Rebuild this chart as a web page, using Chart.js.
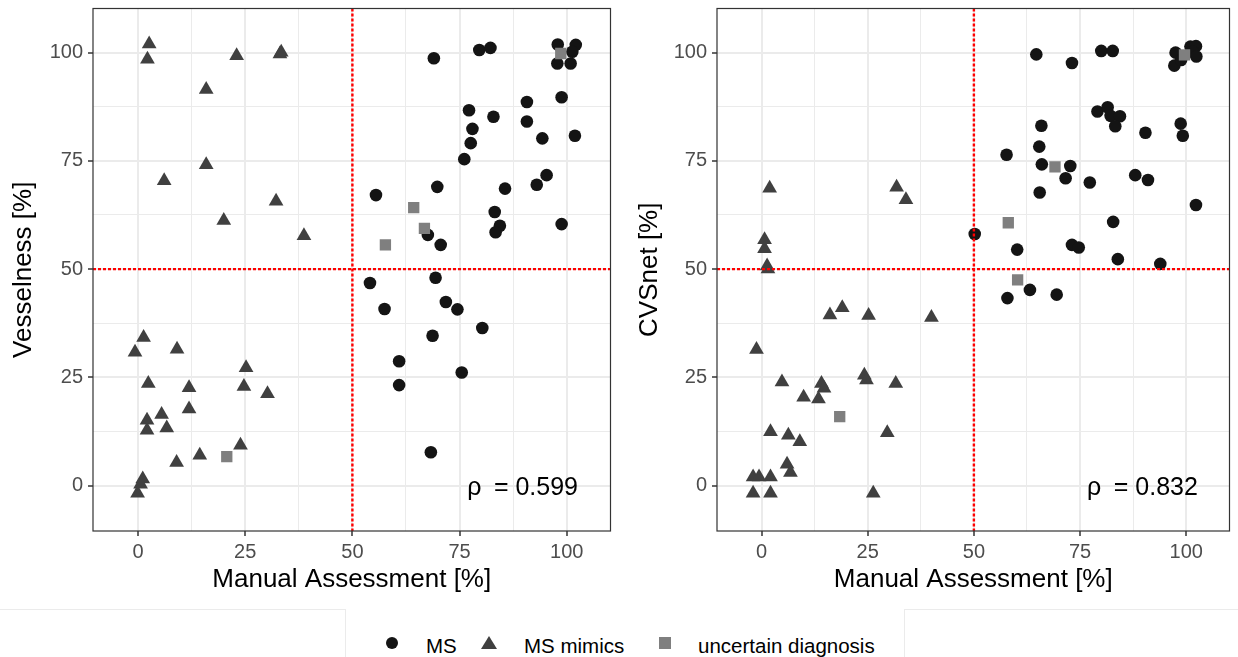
<!DOCTYPE html>
<html lang="en">
<head>
    <meta charset="UTF-8">
    <title>Vesselness / CVSnet vs Manual Assessment</title>
    <script src="https://cdn.jsdelivr.net/npm/chart.js"></script>
    <style>
        body {
            margin: 0;
            background: #fff;
            font-family: "Liberation Sans", Arial, sans-serif;
        }
        #page {
            position: relative;
            width: 1238px;
            height: 657px;
            overflow: hidden;
        }
        canvas { position: absolute; top: 0; }
        #left { left: 0; }
        #right { left: 619px; }
        .frame { position: absolute; border-color: #ebebeb; border-style: solid; border-width: 0; }
        .legend-item { position: absolute; font-size: 20.5px; color: #000; line-height: 20px; top: 636px; }
        .mark { position: absolute; }
    </style>
</head>
<body>
<div id="page">
    <canvas id="left" width="619" height="600"></canvas>
    <canvas id="right" width="619" height="600"></canvas>

    <div class="frame" style="left:0; top:609px; width:345px; height:60px; border-top-width:1px; border-right-width:1px;"></div>
    <div class="frame" style="left:904px; top:609px; width:340px; height:60px; border-top-width:1px; border-left-width:1px;"></div>

    <div class="mark" style="left:386px; top:637px; width:12px; height:12px; border-radius:50%; background:#141414;"></div>
    <div class="legend-item" style="left:426px;">MS</div>
    <div class="mark" style="left:481px; top:636px; width:16px; height:13px; background:#404040; clip-path: polygon(50% 0, 100% 100%, 0 100%);"></div>
    <div class="legend-item" style="left:524px;">MS mimics</div>
    <div class="mark" style="left:659px; top:637px; width:12px; height:12px; background:#7f7f7f;"></div>
    <div class="legend-item" style="left:698px;">uncertain diagnosis</div>
</div>
<script>
    const FONT = '"Liberation Sans", Arial, sans-serif';

    const TICKS = [0, 25, 50, 75, 100];
    const MINOR_TICKS = [12.5, 37.5, 62.5, 87.5];
    const AXIS_MIN = -10.5;
    const AXIS_MAX = 110.2;
    const CUTOFF = 50;
    const RHO_AT = [89.7, -0.7];

    // left panel: Vesselness
    const VESSEL_MS = [
        [69, 98.7], [79.6, 100.6], [82.2, 101.1], [97.9, 101.9], [102.1, 101.8], [101.3, 100.2],
        [97.8, 97.5], [100.9, 97.5], [98.8, 89.7], [90.7, 88.6], [77.2, 86.7], [82.9, 85.2],
        [90.7, 84.1], [78, 82.4], [94.3, 80.2], [101.9, 80.8], [77.6, 79.1], [76.1, 75.4],
        [95.3, 71.7], [93, 69.5], [69.8, 69.0], [85.6, 68.6], [55.5, 67.1], [83.2, 63.2],
        [98.8, 60.4], [84.4, 60.0], [83.4, 58.5], [67.6, 57.9], [70.6, 55.6], [54.1, 46.8],
        [69.4, 48.0], [57.5, 40.8], [71.8, 42.4], [74.5, 40.7], [80.3, 36.4], [68.7, 34.6],
        [60.9, 28.7], [75.5, 26.1], [60.9, 23.2], [68.3, 7.7]
    ];
    const VESSEL_MIMICS = [
        [2.6, 102.0], [2.2, 98.5], [23.0, 99.3], [33.1, 99.7], [33.4, 100.1], [15.9, 91.5],
        [15.9, 74.1], [6.1, 70.4], [32.2, 65.7], [20.0, 61.2], [38.7, 57.7],
        [1.3, 34.2], [-0.7, 30.8], [9.1, 31.5], [25.2, 27.2], [2.4, 23.6], [11.9, 22.6],
        [24.7, 22.9], [30.2, 21.2], [5.5, 16.4], [11.9, 17.7], [2.1, 15.1], [6.7, 13.3],
        [2.1, 12.8], [23.9, 9.3], [14.4, 7.0], [9.0, 5.3], [1.1, 1.5], [0.6, 0.3], [-0.1, -1.8]
    ];
    const VESSEL_UNCERTAIN = [[20.7, 6.7], [64.3, 64.2], [66.8, 59.4], [57.7, 55.6], [98.6, 99.8]];
    const VESSEL_RHO = '0.599';

    // right panel: CVSnet
    const CVS_MS = [
        [64.7, 99.6], [73.1, 97.6], [80.0, 100.4], [82.7, 100.4], [97.5, 100.0], [97.2, 97.0],
        [98.8, 98.3], [101.0, 101.4], [102.3, 101.5], [101.5, 100.2], [102.4, 99.1], [79.1, 86.4],
        [81.5, 87.4], [82.2, 85.4], [84.4, 85.3], [83.3, 83.0], [65.9, 83.1], [90.4, 81.5],
        [98.7, 83.6], [99.2, 80.8], [65.4, 78.3], [57.7, 76.4], [66.0, 74.2], [72.7, 73.8],
        [71.6, 71.0], [77.3, 70.0], [88.0, 71.7], [91.0, 70.6], [65.5, 67.7], [102.3, 64.8],
        [50.2, 58.1], [82.8, 60.9], [60.2, 54.5], [73.1, 55.6], [74.7, 55.0], [83.9, 52.3],
        [93.9, 51.2], [63.2, 45.2], [57.9, 43.3], [69.5, 44.1]
    ];
    const CVS_MIMICS = [
        [1.9, 68.7], [31.8, 68.9], [34.0, 66.0], [0.7, 56.8], [0.7, 54.7], [1.3, 50.7],
        [1.5, 50.0], [16.1, 39.4], [19.0, 41.1], [25.2, 39.3], [40.0, 38.8], [-1.2, 31.4],
        [4.8, 23.9], [14.1, 23.6], [14.7, 22.5], [9.9, 20.4], [13.4, 20.0], [24.2, 25.5],
        [24.7, 24.4], [31.6, 23.6], [2.1, 12.4], [6.3, 11.6], [9.0, 10.1], [29.6, 12.2],
        [6.0, 4.9], [6.8, 3.0], [-2.0, 2.0], [-0.6, 2.0], [2.1, 2.0], [-2.0, -1.8],
        [2.1, -1.8], [26.3, -1.8]
    ];
    const CVS_UNCERTAIN = [[18.4, 15.9], [58.1, 60.7], [69.1, 73.6], [60.3, 47.5], [99.6, 99.5]];
    const CVS_RHO = '0.832';

    const toXY = pts => pts.map(p => ({x: p[0], y: p[1]}));
    const isMajor = v => TICKS.includes(v);

    // panel border, red cut-off lines and the correlation label
    const panelDecor = {
        id: 'panelDecor',
        afterDatasetsDraw(chart, args, opts) {
            const {ctx, chartArea: a, scales: {x, y}} = chart;
            const px = x.getPixelForValue(CUTOFF);
            const py = y.getPixelForValue(CUTOFF);
            ctx.save();
            ctx.strokeStyle = '#ff0000';
            ctx.lineWidth = 2.4;
            ctx.setLineDash([3, 2]);
            ctx.beginPath();
            ctx.moveTo(px, a.top); ctx.lineTo(px, a.bottom);
            ctx.moveTo(a.left, py); ctx.lineTo(a.right, py);
            ctx.stroke();
            ctx.setLineDash([]);
            ctx.strokeStyle = '#333333';
            ctx.lineWidth = 1.2;
            ctx.strokeRect(a.left, a.top, a.width, a.height);
            ctx.fillStyle = '#000';
            ctx.font = '25px ' + FONT;
            ctx.textAlign = 'center';
            ctx.textBaseline = 'middle';
            ctx.fillText('\u03C1\u2002= ' + opts.rho,
                x.getPixelForValue(RHO_AT[0]), y.getPixelForValue(RHO_AT[1]));
            ctx.restore();
        }
    };

    function makeAxis(title, titlePad, fitSize, horizontal) {
        return {
            type: 'linear',
            min: AXIS_MIN,
            max: AXIS_MAX,
            afterBuildTicks: scale => {
                scale.ticks = TICKS.concat(MINOR_TICKS).sort((a, b) => a - b).map(v => ({value: v}));
            },
            afterFit: scale => {
                if (horizontal) scale.height = fitSize; else scale.width = fitSize;
                // labels never reach the panel edges, so no extra room is needed
                scale.paddingTop = 0;
                scale.paddingBottom = 0;
                scale.paddingLeft = 0;
                scale.paddingRight = 0;
            },
            ticks: {
                autoSkip: false,
                maxRotation: 0,
                padding: horizontal ? 4 : 5,
                color: '#4d4d4d',
                font: {family: FONT, size: 20},
                callback: v => isMajor(v) ? v : ''
            },
            grid: {
                color: '#ebebeb',
                lineWidth: ctx => isMajor(ctx.tick.value) ? 2 : 1,
                tickLength: 5,
                tickWidth: 1.5,
                tickColor: ctx => isMajor(ctx.tick.value) ? '#333333' : 'rgba(0,0,0,0)'
            },
            border: {display: false},
            title: {
                display: true,
                text: title,
                color: '#000',
                font: {family: FONT, size: 26},
                padding: titlePad
            }
        };
    }

    function renderPanel(id, ms, mimics, uncertain, rho, yTitle, yWidth, yTitlePad, padRight) {
        new Chart(document.getElementById(id).getContext('2d'), {
            type: 'scatter',
            data: {
                datasets: [
                    {label: 'MS', data: toXY(ms), order: 1, pointStyle: 'circle', pointRadius: 6.3,
                     backgroundColor: '#141414', borderWidth: 0},
                    {label: 'MS mimics', data: toXY(mimics), order: 2, pointStyle: 'triangle', pointRadius: 8.5,
                     backgroundColor: '#404040', borderWidth: 0},
                    {label: 'uncertain diagnosis', data: toXY(uncertain), order: 0, pointStyle: 'rect', pointRadius: 8,
                     backgroundColor: '#7f7f7f', borderWidth: 0}
                ]
            },
            options: {
                responsive: false,
                animation: false,
                layout: {padding: {top: 6, right: padRight, bottom: 0, left: 0}},
                plugins: {
                    legend: {display: false},
                    tooltip: {enabled: false},
                    panelDecor: {rho: rho}
                },
                scales: {
                    x: makeAxis('Manual Assessment [%]', {top: 0, bottom: 5}, 69, true),
                    y: makeAxis(yTitle, yTitlePad, yWidth, false)
                }
            },
            plugins: [panelDecor]
        });
    }

    renderPanel('left', VESSEL_MS, VESSEL_MIMICS, VESSEL_UNCERTAIN, VESSEL_RHO,
        'Vesselness [%]', 93, {top: 8, bottom: 0}, 8);
    renderPanel('right', CVS_MS, CVS_MIMICS, CVS_UNCERTAIN, CVS_RHO,
        'CVSnet [%]', 98, {top: 15, bottom: 0}, 4);
</script>
</body>
</html>
